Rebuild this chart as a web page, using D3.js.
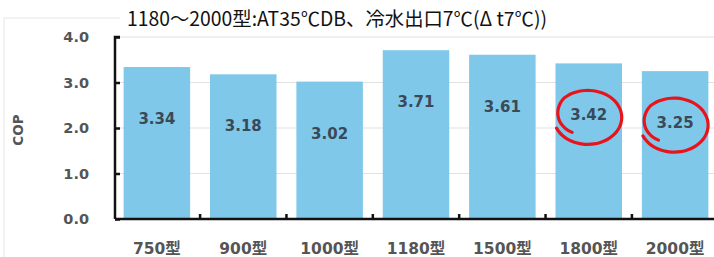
<!DOCTYPE html>
<html>
<head>
<meta charset="utf-8">
<script src="https://cdn.jsdelivr.net/npm/d3@7"></script>
<style>
  body { margin: 0; background: #fff; }
  text { font-family: "DejaVu Sans", "Noto Sans CJK JP", sans-serif; }
</style>
</head>
<body>
<div id="chart"></div>
<script>
// data
const models = ["750型", "900型", "1000型", "1180型", "1500型", "1800型", "2000型"];
const cop = [3.34, 3.18, 3.02, 3.71, 3.61, 3.42, 3.25];
const yTicks = [0, 1, 2, 3, 4];
const circled = ["1800型", "2000型"];
const title = "1180～2000型:AT35℃DB、冷水出口7℃(Δ t7℃))";

const w = 714, h = 257;
const margin = {top: 37, right: -3, bottom: 38, left: 115};

const svg = d3.select("#chart").append("svg")
    .attr("width", w)
    .attr("height", h);

// faint frame of the original picture
svg.append("path")
    .attr("d", "M4,257 V18 H120")
    .attr("fill", "none")
    .attr("stroke", "#e6e6e6")
    .attr("stroke-width", 1);

const x = d3.scaleBand()
    .domain(models)
    .range([margin.left, w - margin.right])
    .paddingInner(0.23)
    .paddingOuter(0.1);

const y = d3.scaleLinear()
    .domain([0, 4])
    .range([h - margin.bottom, margin.top]);

// gridlines
svg.append("g").selectAll("line")
    .data(yTicks.filter(d => d > 0))
    .enter().append("line")
    .attr("x1", margin.left).attr("x2", w)
    .attr("y1", d => y(d)).attr("y2", d => y(d))
    .attr("stroke", "#e2e2e2")
    .attr("stroke-width", 1.2);

// bars
svg.append("g").selectAll("rect")
    .data(models)
    .enter().append("rect")
    .attr("x", d => x(d))
    .attr("width", x.bandwidth())
    .attr("y", (d, i) => y(cop[i]))
    .attr("height", (d, i) => y(0) - y(cop[i]))
    .attr("fill", "#7fc8ea");

// value labels
const labelY = v => y(v) + 57;
svg.append("g").selectAll("text")
    .data(models)
    .enter().append("text")
    .attr("x", d => x(d) + x.bandwidth() / 2)
    .attr("y", (d, i) => labelY(cop[i]))
    .attr("text-anchor", "middle")
    .attr("font-size", 15)
    .attr("font-weight", "bold")
    .attr("fill", "#3b4957")
    .text((d, i) => cop[i].toFixed(2));

// hand drawn red loops
const loop = d3.line().curve(d3.curveCatmullRom);
circled.forEach(m => {
    const i = models.indexOf(m);
    const cx = x(m) + x.bandwidth() / 2;
    const cy = labelY(cop[i]) - 5;
    const pts = d3.range(0, 41).map(k => {
        const t = k / 40;
        const a = Math.PI * 0.72 + t * Math.PI * 2.15;
        const rr = 0.72 + 0.28 * Math.min(1, t * 4);
        return [cx - 1 + Math.cos(a) * 34 * rr, cy + 2 + Math.sin(a) * 27 * rr];
    });
    svg.append("path")
        .attr("d", loop(pts))
        .attr("fill", "none")
        .attr("stroke", "#e8141c")
        .attr("stroke-width", 3.2)
        .attr("stroke-linecap", "round");
});

// y axis
const yAxis = svg.append("g")
    .attr("transform", `translate(${margin.left},0)`)
    .call(d3.axisLeft(y).tickValues(yTicks).tickFormat(d3.format(".1f")).tickSize(-5).tickPadding(26));
yAxis.select(".domain")
    .attr("d", `M5,${y(4)}H0V${y(0)}`)
    .attr("stroke", "#111")
    .attr("stroke-width", 2.5);
yAxis.selectAll(".tick line").attr("stroke", "#111").attr("stroke-width", 2.5);
yAxis.selectAll(".tick text")
    .attr("font-size", 14.5)
    .attr("font-weight", "bold")
    .attr("fill", "#555");

// x axis
const xAxis = svg.append("g")
    .attr("transform", `translate(0,${y(0)})`)
    .call(d3.axisBottom(x).tickSize(0).tickPadding(24));
xAxis.select(".domain")
    .attr("d", `M${margin.left},0H${w}`)
    .attr("stroke", "#111")
    .attr("stroke-width", 2.5);
xAxis.selectAll(".tick text")
    .attr("font-size", 15.5)
    .attr("font-weight", "bold")
    .attr("fill", "#555");

// small upward ticks between categories
const step = x.step();
svg.append("g").selectAll("line")
    .data(models.slice(1))
    .enter().append("line")
    .attr("x1", d => x(d) - step * x.paddingInner() / 2)
    .attr("x2", d => x(d) - step * x.paddingInner() / 2)
    .attr("y1", y(0)).attr("y2", y(0) - 5)
    .attr("stroke", "#111")
    .attr("stroke-width", 2.5);

// axis title
svg.append("text")
    .attr("transform", `translate(23,${(y(0) + y(4)) / 2 + 2}) rotate(-90)`)
    .attr("text-anchor", "middle")
    .attr("font-size", 13.5)
    .attr("font-weight", "bold")
    .attr("fill", "#555")
    .text("COP");

// chart title
svg.append("text")
    .attr("x", 127)
    .attr("y", 26)
    .attr("font-size", 19.5)
    .attr("fill", "#111")
    .attr("textLength", 420)
    .attr("lengthAdjust", "spacingAndGlyphs")
    .style("font-family", "'Noto Sans CJK JP', sans-serif")
    .text(title);
</script>
</body>
</html>
